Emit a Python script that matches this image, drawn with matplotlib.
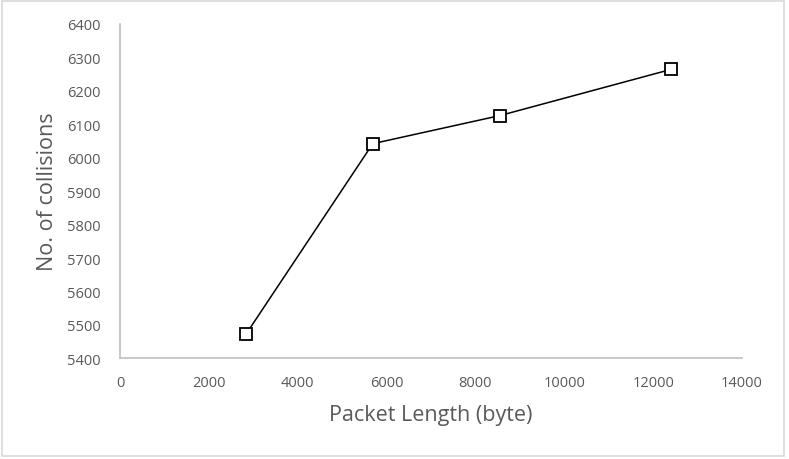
import matplotlib.pyplot as plt
from matplotlib.patches import Rectangle

packet_length = [2840, 5690, 8550, 12400]
collisions = [5473, 6042, 6126, 6264]
x_ticks = [0, 2000, 4000, 6000, 8000, 10000, 12000, 14000]
y_ticks = [5400, 5500, 5600, 5700, 5800, 5900, 6000, 6100, 6200, 6300, 6400]

plt.rcParams['font.family'] = ['Open Sans', 'DejaVu Sans']

fig = plt.figure(figsize=(7.89, 4.6), dpi=100)
ax = fig.add_axes([0.1521, 0.2189, 0.7883, 0.7268])

ax.plot(packet_length, collisions, color='black', linewidth=1.1,
        marker='s', markersize=8, markerfacecolor='white',
        markeredgecolor='black', markeredgewidth=1.3)

ax.set_xlim(0, 14000)
ax.set_ylim(5400, 6400)
ax.set_xticks(x_ticks)
ax.set_yticks(y_ticks)

for side in ['top', 'right']:
    ax.spines[side].set_visible(False)
for side in ['left', 'bottom']:
    ax.spines[side].set_color('#bfbfbf')
    ax.spines[side].set_linewidth(1.2)

ax.tick_params(axis='both', length=0, labelsize=10.5, labelcolor='#595959')
ax.tick_params(axis='y', pad=14)
ax.tick_params(axis='x', pad=12)

ax.set_xlabel('Packet Length (byte)', fontsize=15.5, color='#595959', labelpad=10)
ax.set_ylabel('No. of collisions', fontsize=15.5, color='#595959', labelpad=6)

# outer chart border
fig.patches.append(Rectangle((2 / 789, 3 / 460), 782 / 789, 455 / 460,
                             transform=fig.transFigure, fill=False,
                             edgecolor='#d9d9d9', linewidth=1.2))

fig.savefig('out.png', dpi=100)
